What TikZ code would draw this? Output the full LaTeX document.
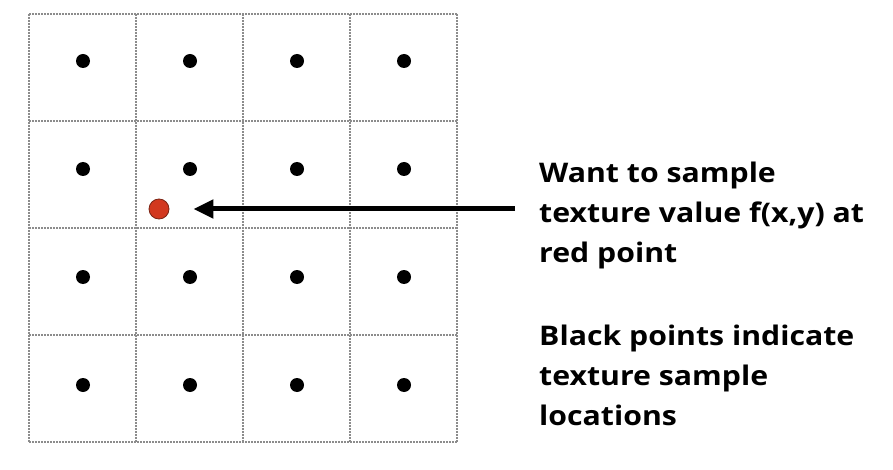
\documentclass[tikz,border=0pt]{standalone}
\usepackage{fontspec}
\setsansfont[Ligatures=NoCommon, FakeStretch=1.12]{Open Sans}
\usetikzlibrary{arrows.meta}
\definecolor{gridline}{HTML}{8C8C8C}
\definecolor{redfill}{HTML}{D2381F}
\definecolor{redline}{HTML}{7A2414}
\tikzset{
  cellline/.style={
    draw=gridline,
    line width=1.6pt,
    dash pattern=on 1.6pt off 1.4pt,
  },
  sample/.style={
    circle,
    fill=black,
    inner sep=0pt,
    minimum size=14pt,
  },
  query/.style={
    circle,
    fill=redfill,
    draw=redline,
    line width=0.8pt,
    inner sep=0pt,
    minimum size=20pt,
  },
  note/.style={
    anchor=base west,
    align=left,
    inner sep=0pt,
    font=\sffamily\bfseries\fontsize{27}{40}\selectfont,
  },
  arr/.style={-{Triangle[length=20pt, width=18pt]}, line width=5pt},
}

\begin{document}
\begin{tikzpicture}[x=1pt, y=-1pt]
\useasboundingbox (0,0) rectangle (893,470);

% Grid of texels
\foreach \i in {0,...,4} {
  \draw[cellline] (29+107*\i,14) -- (29+107*\i,442);
  \draw[cellline] (29,14+107*\i) -- (457,14+107*\i);
}

% Sample locations
\foreach \i in {0,...,3}
  \foreach \j in {0,...,3}
    {\node[sample] (d\i\j) at (83+107*\i, 61+108*\j) {};}

% Red query point
\node[query] (red) at (159,209) {};

% Notes (anchored on the last baseline)
\node[note] (want) at (539,262) {Want to sample\\texture value f(x,y) at\\red point};
\node[note] (black) at (539,425) {Black points indicate\\texture sample\\locations};

% Arrow
\coordinate (tail) at (515,0 |- red.east);
\draw[arr] (tail) -- ([xshift=24pt]red.east);

\end{tikzpicture}
\end{document}
